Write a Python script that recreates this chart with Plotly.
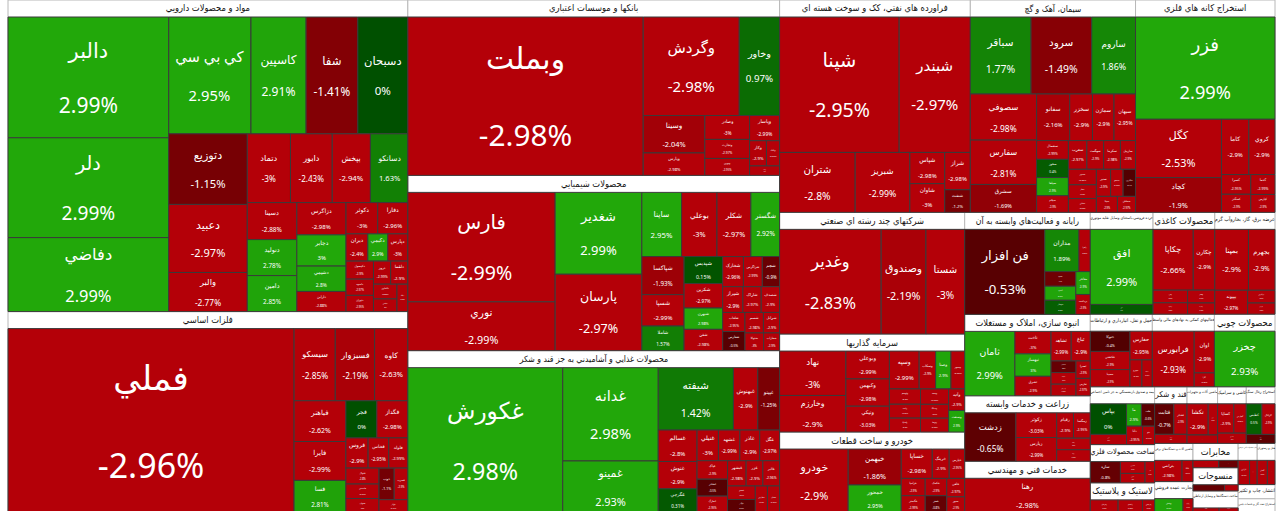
import math
import plotly.graph_objects as go

# market value of each symbol (area units) and daily change in percent
pharma_t = ["دالبر", "دلر", "دفاضي", "کي بي سي", "کاسپين", "شفا", "دسبحان", "دتوزيع", "دعبيد", "والبر",
            "دتماد", "دابور", "بپخش", "دسانکو", "دسينا", "دتوليد", "دامين", "دزاگرس", "دجابر", "دشيمي",
            "دارابن", "دکوثر", "دفارا", "دکيمي", "ديران", "دپارس", "دکپسول", "داسوه", "دتهران", "دروز",
            "دلقما", "دالحاوي", "دقاضي", "دبالک"]
pharma_v = [19.6, 16.2, 12.0, 9.7, 6.5, 6.1, 5.9, 5.6, 5.4, 3.1,
            3.0, 2.9, 2.65, 2.6, 1.85, 1.8, 1.8, 1.6, 1.55, 1.26,
            1.0, 1.0, 0.95, 0.55, 0.6, 0.55, 0.5, 0.45, 0.45, 0.4,
            0.4, 0.35, 0.3, 0.3]
pharma_c = [2.99, 2.99, 2.99, 2.95, 2.91, -1.41, 0, -1.15, -2.97, -2.77,
            -3, -2.43, -2.94, 1.63, -2.88, 2.78, 2.85, -2.98, 3, 2.8,
            -2.88, -3, -2.96, 2.9, -2.4, -3, -2.9, -2.97, -2.95, -2.99,
            -2.9, -2.85, -3, -2.92]

metal_t = ["فملي", "سيسکو", "فسبزوار", "کاوه", "فباهنر", "فايرا", "فسا", "فجر", "فگداز", "فروس",
           "فخاس", "فلوله", "فنوال", "فاسمين", "فجهان", "فسرب", "ذوب", "فولاژ"]
metal_v = [55.0, 3.1, 2.96, 2.5, 2.2, 2.1, 1.76, 1.2, 1.2, 0.7,
           0.65, 0.6, 0.55, 0.5, 0.5, 0.45, 0.5, 0.4]
metal_c = [-2.96, -2.85, -2.19, -2.63, -2.62, -2.99, 2.81, 0, -2.98, -2.9,
           -2.95, -2.99, -2.8, -2.97, -3, -2.9, -1.1, -2.94]

bank_t = ["وبملت", "وگردش", "وخاور", "وسينا", "وپارس", "وصادر", "وتجارت", "ونوين", "وپاسار", "وکار",
          "وبانک", "وسالت"]
bank_v = [39.4, 10.0, 4.2, 2.44, 1.46, 1.13, 0.9, 0.8, 0.8, 0.45, 0.35, 0.3]
bank_c = [-2.98, -2.98, 0.97, -2.04, -2.98, -3, -2.97, -2.95, -2.99, -2.9, -2.96, -2.9]

chem_t = ["فارس", "نوري", "شغدير", "پارسان", "ساينا", "بوعلي", "شکلر", "شگستر", "شپاکسا", "شسپا",
          "شاملا", "شپديس", "شکربن", "شبهرن", "شفن", "شخارک", "شزاگرس", "شجم", "شيراز", "شاراک",
          "شصدف", "شلعاب", "شفارس", "شسم", "شرانل", "شتوکا", "شفاراب"]
chem_v = [17.05, 7.6, 7.5, 7.0, 2.7, 2.4, 2.3, 1.95, 1.7, 1.4,
          1.1, 1.1, 1.0, 0.87, 0.87, 0.66, 0.6, 0.55, 0.55, 0.5,
          0.5, 0.45, 0.45, 0.4, 0.35, 0.35, 0.3]
chem_c = [-2.99, -2.99, 2.99, -2.97, 2.95, -3, -2.97, 2.92, -1.93, -2.99,
          1.57, 0.15, -2.97, 2.98, -2.98, -2.96, -2.99, -0.9, -2.9, -2.97,
          -2.9, -2.95, -0.5, -2.98, -2.9, -3, -2.9]

food_t = ["غکورش", "غدانه", "غمينو", "شيفته", "غبهنوش", "غپينو", "غسالم", "غنوش", "غگرجي", "غنيلي",
          "غشهد", "غاذر", "غگل", "غپاک", "غشاذر", "غمارگ", "غبشهر", "غزر", "غالبر", "غصينو",
          "غپآذر", "غفارس", "غشان"]
food_v = [24.0, 9.5, 5.3, 5.0, 1.62, 1.45, 1.3, 1.13, 1.0, 0.7,
          0.7, 0.65, 0.65, 0.6, 0.55, 0.55, 0.5, 0.45, 0.45, 0.4,
          0.4, 0.35, 0.35]
food_c = [2.98, 2.98, 2.93, 1.42, -2.9, -1.25, -2.8, -2.9, 0.31, -3,
          -2.99, -2.9, -2.97, -2.9, -0.5, -2.95, -2.98, -2.9, -2.96, -2.9,
          -0.6, -2.9, -2.97]

oil_t = ["شپنا", "شبندر", "شتران", "شبريز", "شپاس", "شاوان", "شراز", "شنفت"]
oil_v = [16.8, 10.0, 4.7, 3.4, 1.13, 1.04, 0.99, 0.6]
oil_c = [-2.95, -2.97, -2.8, -2.99, -2.98, -3, -2.98, -1.2]

cement_t = ["سباقر", "سرود", "ساروم", "سصوفي", "سفارس", "سشرق", "سفانو", "سخزر", "سمازن", "سبهان",
            "سشمال", "سخوز", "سپاها", "سيلام", "سغرب", "سهگمت", "سکرما", "ساربيل", "سدور", "سفار",
            "سقاين", "سنير", "سبجنو", "سکارون", "سيتا", "سخاش"]
cement_v = [4.85, 4.85, 3.5, 3.17, 3.05, 1.92, 1.6, 1.1, 1.04, 1.04,
            0.62, 0.6, 0.6, 0.55, 0.55, 0.5, 0.5, 0.45, 0.45, 0.4,
            0.4, 0.4, 0.35, 0.35, 0.35, 0.3]
cement_c = [1.77, -1.49, 1.86, -2.98, -2.81, -1.69, -2.16, -2.9, -2.9, -2.95,
            -2.99, 0.4, 2.9, -2.9, -2.97, -2.9, -2.98, -2.9, -2.95, -2.9,
            -2.99, -2.9, -2.96, -0.4, -2.9, -2.97]

mine_t = ["فزر", "کگل", "کچاد", "کاما", "کروي", "کسرا", "کمنگنز", "کدما", "کپارس"]
mine_v = [14.8, 5.2, 3.1, 1.57, 1.5, 0.6, 0.55, 0.5, 0.45]
mine_c = [2.99, -2.53, -1.9, -2.9, -2.9, -2.95, -2.9, -2.99, -2.9]

multi_t = ["وغدير", "وصندوق", "شستا"]
multi_v = [11.8, 5.2, 4.5]
multi_c = [-2.83, -2.19, -3]

invest_t = ["نهاد", "وخارزم", "وبوعلي", "وکبهمن", "ونيکي", "وسپه", "وسکاب", "وصنا", "وسپهر", "وتوسم",
            "واميد", "ولساپا", "وبيمه", "وسمگا", "وتوصا", "وآتيه", "وصنعت"]
invest_v = [3.4, 2.8, 1.4, 1.37, 1.3, 1.3, 0.72, 0.67, 0.6, 0.55,
            0.5, 0.5, 0.5, 0.45, 0.45, 0.4, 0.4]
invest_c = [-3, -2.9, -2.99, -2.98, -3.03, -2.99, -2.9, 2.9, -2.95, -2.9,
            -2.97, -2.9, -2.99, -2.9, -2.96, -2.9, 2.9]

auto_t = ["خودرو", "خبهمن", "خمحور", "خساپا", "خرينگ", "خپارس", "خزاميا", "خگستر", "خکمک", "خفنر",
          "خاهن", "خمهر"]
auto_v = [5.3, 2.3, 1.8, 1.1, 0.6, 0.55, 0.5, 0.5, 0.45, 0.45, 0.4, 0.35]
auto_c = [-2.9, -1.86, 2.95, -2.98, -2.9, -2.95, -2.9, -2.99, -2.9, -0.8, -2.97, -2.9]

comp_t = ["فن افزار", "مداران", "رافزا", "سپ", "اسپ", "سپيدار", "مفاخر", "پرداخت"]
comp_v = [7.8, 1.65, 0.55, 0.52, 0.5, 0.5, 0.38, 0.33]
comp_c = [-0.53, 1.89, -2.8, -1.0, 2.9, 0.5, 2.9, -2.9]

estate_t = ["ثامان", "ثاخت", "ثبهساز", "ثشرق", "ثشاهد", "ثباغ", "ثمسکن", "ثنوسا", "ثپرديس", "ثعمرا", "ثفارس"]
estate_v = [3.9, 0.98, 0.98, 0.85, 0.72, 0.68, 0.35, 0.35, 0.35, 0.3, 0.3]
estate_c = [2.99, -3, 3, -2.9, -2.99, -2.9, -0.8, -2.9, -2.95, -2.9, -2.97]

agri_t = ["زدشت", "زکوثر", "زپارس", "زقيام", "زمگسا", "زفکا", "زبينا"]
agri_v = [3.2, 1.3, 1.25, 0.55, 0.55, 0.5, 0.5]
agri_c = [-0.65, -3.03, -2.99, -2.9, -2.95, -2.9, -2.97]

eng_t = ["رهنا"]
eng_v = [6.2]
eng_c = [-2.98]

retail_t = ["افق", "اتکاي"]
retail_v = [5.4, 0.7]
retail_c = [2.99, 0.3]

paper_t = ["چکاپا", "چکارن", "چدن", "چکاوه", "چفيبر", "چکرما"]
paper_v = [2.8, 1.5, 0.5, 0.45, 0.4, 0.35]
paper_c = [-2.66, -2.9, -2.9, -2.95, -2.9, -2.98]

power_t = ["بمپنا", "بجهرم", "بپيوند", "بزاگرس", "بکهنوج"]
power_v = [2.35, 1.85, 0.9, 0.4, 0.35]
power_c = [-2.9, -2.9, -2.97, -2.9, -2.95]

trans_t = ["حتوکا", "حکشتي", "حسينا", "حفارس", "حپترو", "حآسا"]
trans_v = [1.0, 0.9, 0.85, 0.8, 0.4, 0.35]
trans_c = [-0.4, -2.9, -2.9, -2.95, -2.9, -2.97]

finaux_t = ["فرابورس", "اوان", "کارا"]
finaux_v = [2.9, 1.05, 0.35]
finaux_c = [-2.93, -2.9, -2.95]

wood_t = ["چخزر"]
wood_v = [4.2]
wood_c = [2.93]

insure_t = ["بپاس", "البرز", "ما", "ملت", "دانا", "بنو"]
insure_v = [1.5, 0.5, 0.45, 0.4, 0.4, 0.3]
insure_c = [0, -2.9, 2.9, -0.6, -2.95, -2.9]

metalprod_t = ["سازه", "فنرژي", "فسازان", "فاذر"]
metalprod_v = [1.1, 0.5, 0.4, 0.35]
metalprod_c = [-0.8, -2.9, -2.95, -2.9]

machine_t = ["تکشا", "تپمپي", "تايرا"]
machine_v = [0.9, 0.4, 0.35]
machine_c = [-2.9, -2.95, -2.9]

rubber_t = ["پکرمان", "پاکشو", "پدرخش"]
rubber_v = [0.8, 0.7, 0.35]
rubber_c = [-2.9, -2.95, -2.9]

sugar_t = ["قثابت", "قشکر", "قهکمت"]
sugar_v = [0.8, 0.55, 0.4]
sugar_c = [-0.7, -2.9, -2.97]

tile_t = ["کساپا", "کفپارس", "کسعدي"]
tile_v = [0.65, 0.5, 0.4]
tile_c = [-2.9, -2.95, -2.9]

coal_t = ["کطبس", "کزغال", "کهمدا"]
coal_v = [0.65, 0.55, 0.35]
coal_c = [0.5, -2.9, -0.6]

electric_t = ["بترانس", "بايکا"]
electric_v = [1.0, 0.4]
electric_c = [-2.98, -2.9]

textile_t = ["نبروج", "نمرينو"]
textile_v = [0.7, 0.3]
textile_c = [-0.8, -2.9]

radio_t = ["لکما", "لابسا"]
radio_v = [0.55, 0.4]
radio_c = [-2.9, -2.95]

telecom_t = ["اخابر", "همراه"]
telecom_v = [0.6, 0.45]
telecom_c = [-2.9, -0.9]

whole_t = ["وپخش", "رتاپ"]
whole_v = [0.85, 0.3]
whole_c = [2.9, -2.9]

print_t = ["چاپ"]
print_v = [0.5]
print_c = [0.3]

hotel_t = ["گشان", "گدنا"]
hotel_v = [0.4, 0.3]
hotel_c = [-2.9, -2.95]

drill_t = ["حفاري"]
drill_v = [0.5]
drill_c = [-2.9]

mineral_t = ["کرازي", "کپرور"]
mineral_v = [0.45, 0.3]
mineral_c = [-2.9, -2.95]

sectors = [
    ("مواد و محصولات دارويي", pharma_t, pharma_v, pharma_c),
    ("فلزات اساسي", metal_t, metal_v, metal_c),
    ("بانکها و موسسات اعتباري", bank_t, bank_v, bank_c),
    ("محصولات شيميايي", chem_t, chem_v, chem_c),
    ("محصولات غذايي و آشاميدني به جز قند و شکر", food_t, food_v, food_c),
    ("فراورده هاي نفتي، کک و سوخت هسته اي", oil_t, oil_v, oil_c),
    ("سيمان، آهک و گچ", cement_t, cement_v, cement_c),
    ("استخراج کانه هاي فلزي", mine_t, mine_v, mine_c),
    ("شرکتهاي چند رشته اي صنعتي", multi_t, multi_v, multi_c),
    ("سرمايه گذاريها", invest_t, invest_v, invest_c),
    ("خودرو و ساخت قطعات", auto_t, auto_v, auto_c),
    ("رايانه و فعاليت‌هاي وابسته به آن", comp_t, comp_v, comp_c),
    ("انبوه سازي، املاک و مستغلات", estate_t, estate_v, estate_c),
    ("زراعت و خدمات وابسته", agri_t, agri_v, agri_c),
    ("خدمات فني و مهندسي", eng_t, eng_v, eng_c),
    ("خرده فروشي،باستثناي وسايل نقليه موتوري", retail_t, retail_v, retail_c),
    ("محصولات کاغذي", paper_t, paper_v, paper_c),
    ("عرضه برق، گاز، بخاروآب گرم", power_t, power_v, power_c),
    ("حمل و نقل، انبارداري و ارتباطات", trans_t, trans_v, trans_c),
    ("فعاليتهاي کمکي به نهادهاي مالي واسط", finaux_t, finaux_v, finaux_c),
    ("محصولات چوبي", wood_t, wood_v, wood_c),
    ("بيمه و صندوق بازنشستگي به جز تامين اجتماعي", insure_t, insure_v, insure_c),
    ("ساخت محصولات فلزي", metalprod_t, metalprod_v, metalprod_c),
    ("ماشين آلات و تجهيزات", machine_t, machine_v, machine_c),
    ("لاستيک و پلاستيک", rubber_t, rubber_v, rubber_c),
    ("قند و شکر", sugar_t, sugar_v, sugar_c),
    ("کاشي و سراميک", tile_t, tile_v, tile_c),
    ("استخراج زغال سنگ", coal_t, coal_v, coal_c),
    ("ماشين آلات و دستگاه‌هاي برقي", electric_t, electric_v, electric_c),
    ("منسوجات", textile_t, textile_v, textile_c),
    ("ساخت دستگاه‌ها و وسايل ارتباطي", radio_t, radio_v, radio_c),
    ("مخابرات", telecom_t, telecom_v, telecom_c),
    ("تجارت عمده فروشي", whole_t, whole_v, whole_c),
    ("انتشار، چاپ و تکثير", print_t, print_v, print_c),
    ("هتل و رستوران", hotel_t, hotel_v, hotel_c),
    ("استخراج نفت گاز و خدمات جنبي", drill_t, drill_v, drill_c),
    ("ساير محصولات کاني غيرفلزي", mineral_t, mineral_v, mineral_c),
]

HEADER = 17  # height of the white sector title bar


def tile_color(p):
    # dark near zero, bright at the +/-3% limits
    if p >= 0:
        t = min(p / 3.0, 1.0)
        lo, hi = (0, 80, 0), (34, 168, 10)
    else:
        t = min(-p / 2.4, 1.0)
        lo, hi = (62, 0, 0), (180, 0, 8)
    r, g, b = [round(a + (c - a) * t) for a, c in zip(lo, hi)]
    return f"rgb({r},{g},{b})"


ids, labels, parents, values, colors, texts = [], [], [], [], [], []
sizes, fcolors, families, lcolors = [], [], [], []
for name, tick, val, chg in sectors:
    ids.append(name)
    labels.append(name)
    parents.append("")
    values.append(0)
    colors.append("#ffffff")
    texts.append(name)
    sizes.append(11)
    fcolors.append("#111111")
    families.append("DejaVu Sans Condensed, DejaVu Sans")
    lcolors.append("#b8b8b8")
    for t, v, c in zip(tick, val, chg):
        ids.append(name + "/" + t)
        labels.append(t)
        parents.append(name)
        values.append(v)
        colors.append(tile_color(c))
        texts.append(f"{t}<br><br>{c:g}%")
        sizes.append(max(6, min(34, 0.15 * math.sqrt(v * 1000))))
        fcolors.append("#ffffff")
        families.append("Noto Sans, DejaVu Sans, sans-serif")
        lcolors.append("#3a3a3a")

fig = go.Figure(go.Treemap(
    ids=ids,
    labels=labels,
    parents=parents,
    values=values,
    branchvalues="remainder",
    text=texts,
    texttemplate="%{text}",
    textposition="middle center",
    textfont=dict(size=sizes, color=fcolors, family=families),
    marker=dict(colors=colors, line=dict(width=1, color=lcolors),
                pad=dict(t=HEADER, l=0, r=0, b=0)),
    tiling=dict(packing="squarify", squarifyratio=1.618, pad=0),
    pathbar=dict(visible=False),
    hoverinfo="label+text",
))

fig.update_layout(
    width=1280, height=511 + HEADER + 2,
    margin=dict(l=8, r=5, t=0, b=0),
    paper_bgcolor="white",
    font=dict(family="Noto Sans, DejaVu Sans, sans-serif"),
)

# no page margin, and hide the title bar of the invisible top-level node
page_js = ("document.body.style.margin='0';"
           "document.getElementById('{plot_id}').style.marginTop='-%dpx';" % HEADER)
fig.write_html("out.html", post_script=page_js, config={"displayModeBar": False})
